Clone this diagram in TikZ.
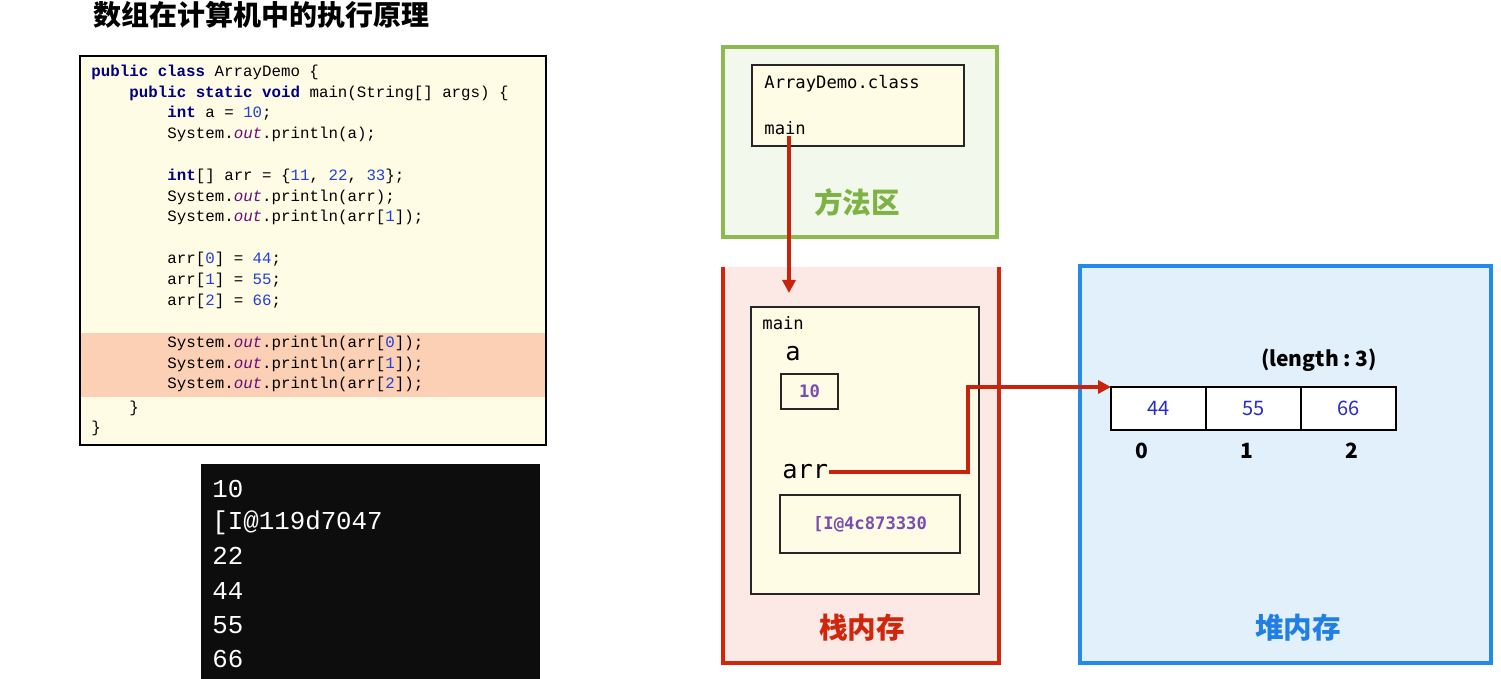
\documentclass[tikz,border=0pt]{standalone}
\usepackage{fontspec}
\usepackage{xcolor}
\usepackage{tikz}
\usetikzlibrary{arrows.meta}
\usetikzlibrary{positioning}
\newfontfamily\cjk{Noto Sans CJK SC}
\newfontfamily\codefont{Liberation Mono}
\newfontfamily\memfont{DejaVu Sans Mono}
\definecolor{codebg}{HTML}{FFFCE5}
\definecolor{hlband}{HTML}{FBD0B4}
\definecolor{kwblue}{HTML}{000080}
\definecolor{numblue}{HTML}{2040D8}
\definecolor{outpurple}{HTML}{660E7A}
\definecolor{methodgreen}{HTML}{8CBA4F}
\definecolor{methodfill}{HTML}{F3F8EC}
\definecolor{methodtext}{HTML}{7CB342}
\definecolor{stackred}{HTML}{D0260C}
\definecolor{stackpink}{HTML}{FCE9E6}
\definecolor{heapblue}{HTML}{2389EA}
\definecolor{heapfill}{HTML}{E2F0FC}
\definecolor{heaptext}{HTML}{1F7FE5}
\definecolor{valpurple}{HTML}{7A4EB0}
\definecolor{cellblue}{HTML}{2B2BC8}
\definecolor{refred}{HTML}{C8230C}
\newcommand{\kw}[1]{\textcolor{kwblue}{\bfseries #1}}
\newcommand{\nm}[1]{\textcolor{numblue}{#1}}
\newcommand{\sysout}{System.\textcolor{outpurple}{\itshape out}.println}
\tikzset{
  codeline/.style={anchor=base west, inner sep=0pt, font=\codefont\fontsize{7.9}{9}\selectfont},
  conline/.style={anchor=base west, inner sep=0pt, text=white, font=\codefont\fontsize{12.9}{15}\selectfont},
  memtext/.style={anchor=base west, inner sep=0pt, font=\memfont\fontsize{8.6}{10}\selectfont},
  varname/.style={inner sep=0pt, font=\memfont\fontsize{12.7}{15}\selectfont},
  framebox/.style={draw=black!85, line width=0.75pt, fill=codebg},
  valbox/.style={framebox, text=valpurple, font=\memfont\bfseries\fontsize{8.6}{10}\selectfont},
  arealabel/.style={font=\cjk\bfseries\fontsize{14.3}{16}\selectfont},
  cell/.style={draw=black, line width=1.4pt, fill=white, outer sep=0pt, minimum width=47.5pt, minimum height=21.5pt, text=cellblue, font=\cjk\fontsize{10}{12}\selectfont},
  idx/.style={font=\cjk\bfseries\fontsize{10.5}{12}\selectfont},
  refline/.style={draw=refred, line width=1.6pt},
  refarrow/.style={refline, -{Triangle[length=6.5pt,width=6.5pt]}},
}
\begin{document}
\begin{tikzpicture}[x=0.5pt, y=-0.5pt]
\useasboundingbox (0,0) rectangle (1501,679);
\node[anchor=west, font=\cjk\bfseries\fontsize{14}{16}\selectfont] (title) at (86,15) {数组在计算机中的执行原理};
% source code
\fill[codebg] (80,56) rectangle (546,445);
\fill[hlband] (81,333) rectangle (545,397);
\draw[line width=1pt] (80,56) rectangle (546,445);
\node[codeline] (l1) at (91,77) {\kw{public class} ArrayDemo \{};
\node[codeline] (l2) at (129,98) {\kw{public static void} main(String[] args) \{};
\node[codeline] (l3) at (167,118) {\kw{int} a = \nm{10};};
\node[codeline] (l4) at (167,139) {\sysout(a);};
\node[codeline] (l6) at (167,181) {\kw{int}[] arr = \{\nm{11}, \nm{22}, \nm{33}\};};
\node[codeline] (l7) at (167,202) {\sysout(arr);};
\node[codeline] (l8) at (167,222) {\sysout(arr[\nm{1}]);};
\node[codeline] (l10) at (167,264) {arr[\nm{0}] = \nm{44};};
\node[codeline] (l11) at (167,285) {arr[\nm{1}] = \nm{55};};
\node[codeline] (l12) at (167,306) {arr[\nm{2}] = \nm{66};};
\node[codeline] (l14) at (167,348) {\sysout(arr[\nm{0}]);};
\node[codeline] (l15) at (167,369) {\sysout(arr[\nm{1}]);};
\node[codeline] (l16) at (167,389) {\sysout(arr[\nm{2}]);};
\node[codeline] (l17) at (129,413) {\}};
\node[codeline] (l18) at (91,433) {\}};
% console
\fill[black!95] (201,464) rectangle (540,679);
\node[conline] (o1) at (212,497) {10};
\node[conline] (o2) at (212,530) {[I@119d7047};
\node[conline] (o3) at (212,565) {22};
\node[conline] (o4) at (212,599) {44};
\node[conline] (o5) at (212,633) {55};
\node[conline] (o6) at (212,667) {66};
% method area
\draw[draw=methodgreen, fill=methodfill, line width=1.8pt] (723,47) rectangle (997,237);
\draw[framebox] (752,65) rectangle (964,146);
\node[memtext] (clsname) at (764,89) {ArrayDemo.class};
\node[memtext] (mmain) at (764,135) {main};
\node[arealabel, text=methodtext] (methodlbl) at (857,202) {方法区};
% stack
\fill[stackpink] (723,267) rectangle (999,663);
\draw[stackred, line width=1.8pt] (723,267) -- (723,663) -- (999,663) -- (999,267);
\draw[framebox] (751,307) rectangle (979,594);
\node[memtext] (smain) at (762,330) {main};
\node[varname, anchor=base west] (alb) at (785,361) {a};
\node[valbox, minimum width=28.5pt, minimum height=17.5pt] (aval) at (809.5,391.5) {10};
\node[varname, anchor=west] (arrlb) at (782,472) {arr};
\node[valbox, minimum width=90pt, minimum height=29pt] (arrval) at (870,524) {[I@4c873330};
\node[arealabel, text=stackred] (stacklbl) at (862,628) {栈内存};
% heap
\draw[draw=heapblue, fill=heapfill, line width=1.8pt] (1080,266) rectangle (1491,663);
\node[idx] (len) at (1319,360) {(length\ :\ 3)};
\node[cell] (c0) at (1158.5,408.5) {44};
\node[cell, right=0pt of c0] (c1) {55};
\node[cell, right=0pt of c1] (c2) {66};
\node[idx] (i0) at (1142,451) {0};
\node[idx] (i1) at (1247,451) {1};
\node[idx] (i2) at (1352,451) {2};
\node[arealabel, text=heaptext] (heaplbl) at (1298,628) {堆内存};
% references
\coordinate (stacktop) at (789,293);
\coordinate (bend) at (968,0);
\draw[refarrow] (mmain.south -| stacktop) -- (stacktop);
\draw[refarrow] (arrlb.east) -- (bend |- arrlb.east) -- (bend |- c0.north west) -- (c0.north west);
\end{tikzpicture}
\end{document}
